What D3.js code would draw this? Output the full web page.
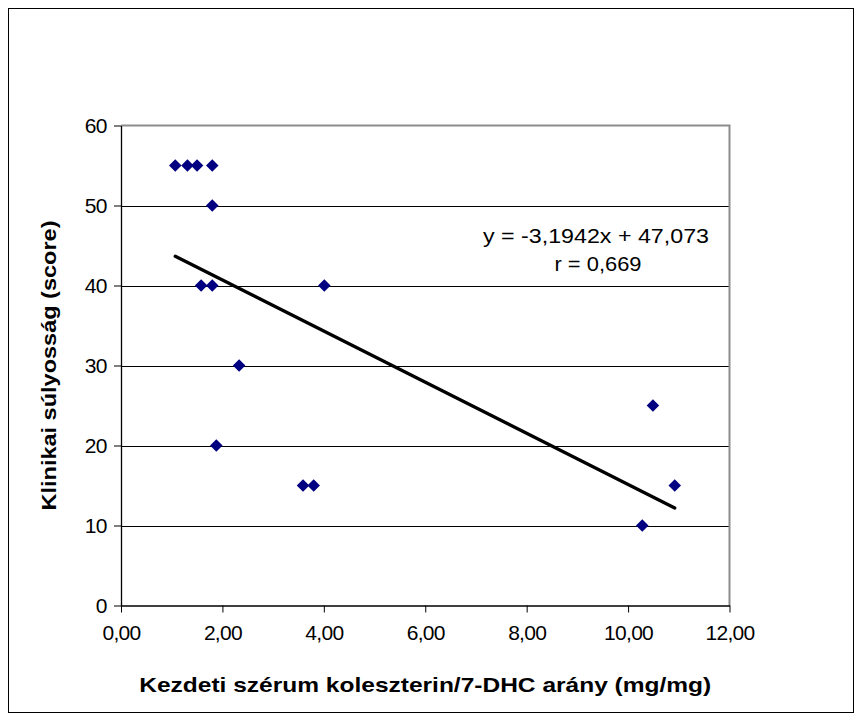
<!DOCTYPE html>
<html>
<head>
<meta charset="utf-8">
<script src="https://cdn.jsdelivr.net/npm/d3@7/dist/d3.min.js"></script>
<style>
  html, body { margin: 0; padding: 0; background: #fff; }
  svg { display: block; font-family: "Liberation Sans", Arial, sans-serif; }
</style>
</head>
<body>
<svg id="chart" width="863" height="722"></svg>
<script>
// ---- data ----
const xValues = [1.07, 1.31, 1.50, 1.80, 1.80, 1.58, 1.80, 4.01, 2.33, 1.88, 3.59, 3.80, 10.28, 10.49, 10.92];
const yValues = [55, 55, 55, 55, 50, 40, 40, 40, 30, 20, 15, 15, 10, 25, 15];
const xTicks = [0, 2, 4, 6, 8, 10, 12];
const yTicks = [0, 10, 20, 30, 40, 50, 60];
const slope = -3.1942;
const intercept = 47.073;
const equationLines = ["y = -3,1942x + 47,073", "r = 0,669"];
const xTitle = "Kezdeti szérum koleszterin/7-DHC arány (mg/mg)";
const yTitle = "Klinikai súlyosság (score)";

const svg = d3.select("#chart");
const plot = { left: 121, top: 125.5, right: 729.5, bottom: 605.5 };

// outer frame
svg.append("rect").attr("x", 8.5).attr("y", 8.5).attr("width", 845).attr("height", 704)
  .attr("fill", "#fff").attr("stroke", "#000").attr("stroke-width", 1);

const x = d3.scaleLinear().domain([0, 12]).range([plot.left, plot.right]);
const y = d3.scaleLinear().domain([0, 60]).range([plot.bottom, plot.top]);

// gridlines
svg.append("g").selectAll("line").data(yTicks.filter(d => d > 0 && d < 60)).join("line")
  .attr("x1", plot.left).attr("x2", plot.right)
  .attr("y1", d => Math.round(y(d)) + 0.5).attr("y2", d => Math.round(y(d)) + 0.5)
  .attr("stroke", "#000").attr("stroke-width", 1);

// plot area border (top/right gray)
svg.append("path")
  .attr("d", `M${plot.left},${plot.top}H${plot.right}V${plot.bottom}`)
  .attr("fill", "none").attr("stroke", "#8c8c8c").attr("stroke-width", 2);

// axes
const fmtX = d => d3.format(".2f")(d).replace(".", ",");
const xAxis = svg.append("g").attr("transform", `translate(0,${plot.bottom})`)
  .call(d3.axisBottom(x).tickValues(xTicks).tickFormat(fmtX).tickSize(7).tickSizeOuter(0));
const yAxis = svg.append("g").attr("transform", `translate(${plot.left},0)`)
  .call(d3.axisLeft(y).tickValues(yTicks).tickSize(7).tickSizeOuter(0));
[xAxis, yAxis].forEach(g => {
  g.selectAll("path.domain").attr("stroke", "#000").attr("stroke-width", 1.3);
  g.selectAll(".tick line").attr("stroke", "#000");
  g.selectAll("text").attr("font-family", "'Liberation Sans', Arial, sans-serif")
    .attr("font-size", 21).attr("letter-spacing", -0.7).attr("fill", "#000");
});
xAxis.selectAll("text").attr("dy", "1.15em");
yAxis.selectAll("text").attr("dx", "-0.2em").attr("dy", "0.34em");

// trend line
const xmin = d3.min(xValues), xmax = d3.max(xValues);
svg.append("line")
  .attr("x1", x(xmin)).attr("y1", y(slope * xmin + intercept))
  .attr("x2", x(xmax)).attr("y2", y(slope * xmax + intercept))
  .attr("stroke", "#000").attr("stroke-width", 3.3).attr("stroke-linecap", "round");

// points
const diamond = d3.symbol().type(d3.symbolDiamond2).size(100);
svg.append("g").selectAll("path").data(xValues.map((v, i) => [v, yValues[i]])).join("path")
  .attr("d", diamond)
  .attr("transform", d => `translate(${x(d[0])},${y(d[1])})`)
  .attr("fill", "#000080");

// equation
svg.append("text").attr("x", 596).attr("y", 243).attr("text-anchor", "middle")
  .attr("font-size", 21).attr("textLength", 226).attr("lengthAdjust", "spacingAndGlyphs")
  .text(equationLines[0]);
svg.append("text").attr("x", 598).attr("y", 271).attr("text-anchor", "middle")
  .attr("font-size", 21).attr("textLength", 87).attr("lengthAdjust", "spacingAndGlyphs")
  .text(equationLines[1]);

// axis titles
svg.append("text").attr("x", (plot.left + plot.right) / 2).attr("y", 692)
  .attr("text-anchor", "middle").attr("font-weight", "bold").attr("font-size", 21)
  .attr("textLength", 572).attr("lengthAdjust", "spacingAndGlyphs")
  .text(xTitle);
svg.append("text")
  .attr("transform", `translate(56,${(plot.top + plot.bottom) / 2}) rotate(-90)`)
  .attr("text-anchor", "middle").attr("font-weight", "bold").attr("font-size", 21)
  .attr("textLength", 290).attr("lengthAdjust", "spacingAndGlyphs")
  .text(yTitle);
</script>
</body>
</html>
